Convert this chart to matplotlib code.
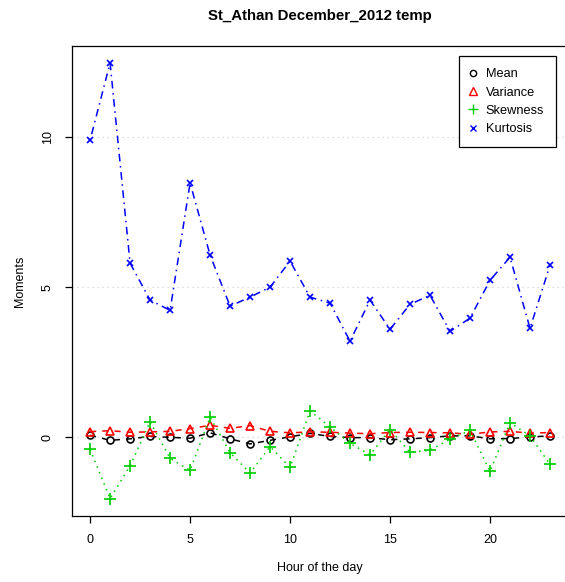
import matplotlib
matplotlib.use("Agg")
import matplotlib.pyplot as plt
from matplotlib.lines import Line2D

# hourly moments
hours = list(range(24))
mean = [0.07, -0.10, -0.05, 0.03, 0.00, -0.03, 0.15, -0.05, -0.22, -0.10, 0.02, 0.13,
        0.03, -0.01, -0.01, -0.08, -0.05, -0.01, 0.05, 0.05, -0.05, -0.04, 0.01, 0.05]
variance = [0.19, 0.22, 0.17, 0.18, 0.20, 0.29, 0.40, 0.30, 0.39, 0.20, 0.15, 0.18,
            0.17, 0.14, 0.12, 0.16, 0.17, 0.16, 0.15, 0.10, 0.18, 0.20, 0.14, 0.16]
skewness = [-0.40, -2.04, -0.95, 0.52, -0.70, -1.10, 0.67, -0.51, -1.19, -0.31, -1.00, 0.88,
            0.35, -0.20, -0.58, 0.26, -0.50, -0.43, -0.06, 0.23, -1.13, 0.49, 0.05, -0.90]
kurtosis = [9.90, 12.47, 5.80, 4.57, 4.23, 8.47, 6.07, 4.37, 4.67, 5.00, 5.87, 4.67,
            4.47, 3.20, 4.57, 3.60, 4.43, 4.73, 3.53, 3.97, 5.23, 6.00, 3.63, 5.73]
grid_levels = [0, 5, 10]

plt.rcParams['font.family'] = ['Liberation Sans', 'DejaVu Sans']

W, H = 565, 582
fig = plt.figure(figsize=(W / 100, H / 100), dpi=100)
ax = fig.add_axes([71.7 / W, 1 - 516 / H, (568.4 - 71.7) / W, (516 - 45.5) / H])

for g in grid_levels:
    ax.axhline(g, color='#d3d3d3', lw=0.9, ls=(0, (1, 3)), zorder=0)

ax.plot(hours, mean, color='black', ls=(0, (4, 4)), lw=1.1, marker='o', ms=5,
        mfc='none', mec='black', mew=1.2, label='Mean')
ax.plot(hours, variance, color='#ff0000', ls=(0, (4, 4)), lw=1.1, marker='^', ms=6,
        mfc='none', mec='#ff0000', mew=1.2, label='Variance')
ax.plot(hours, skewness, color='#00cd00', ls=(0, (1, 3)), lw=1.1, marker='+', ms=8,
        mew=1.2, label='Skewness')
ax.plot(hours, kurtosis, color='#0000ff', ls=(0, (1, 3, 5, 3)), lw=1.1, marker='x', ms=5,
        mew=1.2, label='Kurtosis')

ax.set_xlim(-0.92, 23.92)
ax.set_ylim(-2.62, 13.05)
ax.set_xticks([0, 5, 10, 15, 20])
ax.set_yticks([0, 5, 10])
ax.set_yticklabels(['0', '5', '10'], rotation=90, va='center')
ax.tick_params(direction='out', length=5, width=0.9, labelsize=9, pad=8)
for s in ax.spines.values():
    s.set_linewidth(0.9)

fig.text(320 / W, 1 - 16 / H, 'St_Athan December_2012 temp', fontsize=10.8,
         fontweight='bold', ha='center', va='center')
fig.text(320 / W, 1 - 568 / H, 'Hour of the day', fontsize=9, ha='center', va='center')
fig.text(20 / W, 1 - 281 / H, 'Moments', fontsize=9, ha='center', va='center', rotation=90)

handles = [
    Line2D([], [], ls='none', marker='o', ms=4.5, mfc='none', mec='black', mew=1.0),
    Line2D([], [], ls='none', marker='^', ms=5.5, mfc='none', mec='#ff0000', mew=1.0),
    Line2D([], [], ls='none', marker='+', ms=7, color='#00cd00', mew=1.0),
    Line2D([], [], ls='none', marker='x', ms=4.5, color='#0000ff', mew=1.0),
]
leg = ax.legend(handles, ['Mean', 'Variance', 'Skewness', 'Kurtosis'],
                loc='upper left', bbox_to_anchor=(459 / W, 1 - 56 / H),
                bbox_transform=fig.transFigure, borderaxespad=0, fontsize=9.2,
                fancybox=False, edgecolor='black', framealpha=1, handlelength=0.3,
                handletextpad=0.85, borderpad=0.95, labelspacing=0.5)
leg.get_frame().set_linewidth(0.9)

fig.savefig('out.png', dpi=100)
